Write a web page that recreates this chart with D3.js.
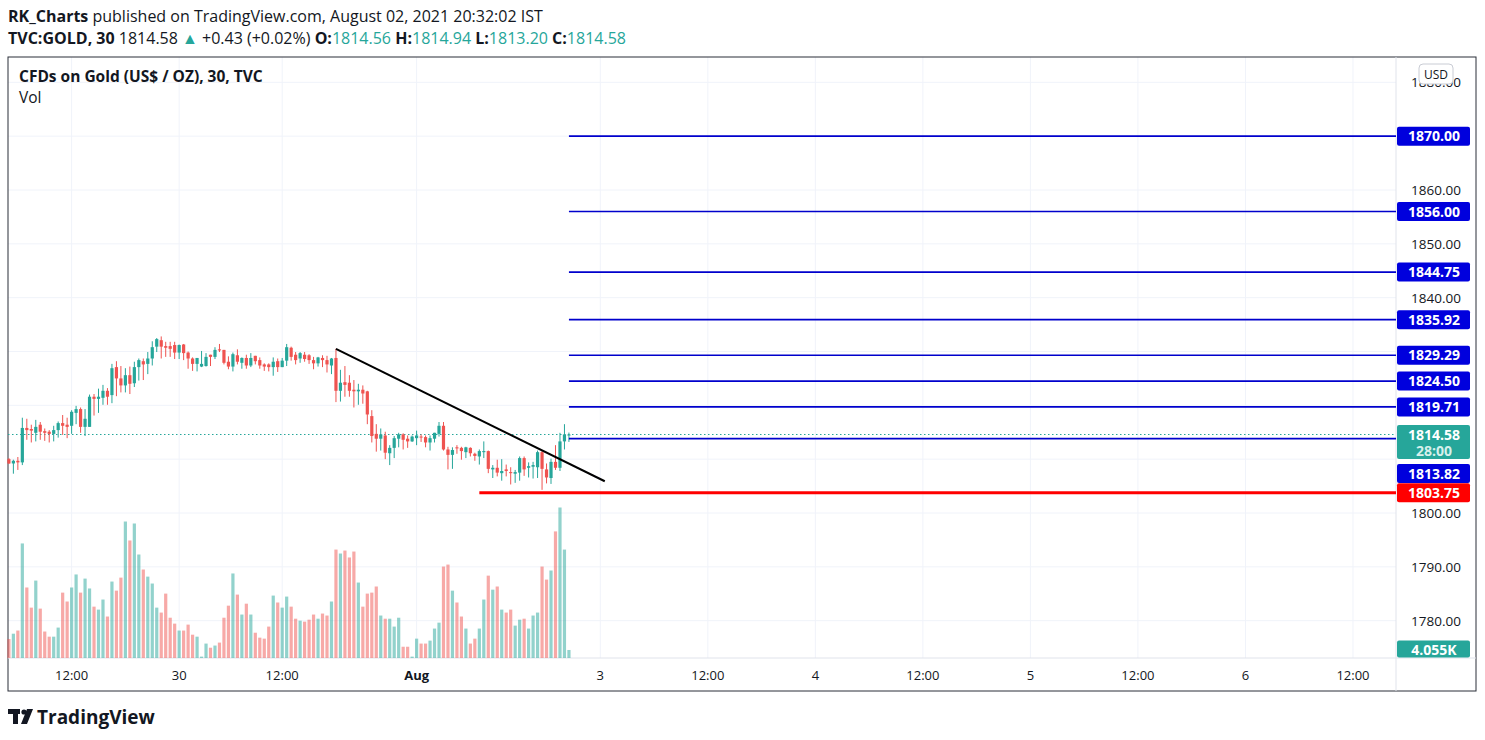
<html>
<head>
<script src="https://d3js.org/d3.v7.min.js"></script>
<style>
  body { margin: 0; background: #fff; }
  * { font-family: "Open Sans", "Noto Sans", Arial; }
</style>
</head>
<body>
<svg id="chart" width="1485" height="740"></svg>
<script>
// [open, high, low, close]
const candles = [
  [1810.0,1810.2,1809.1,1809.2],[1809.2,1809.9,1807.3,1809.7],[1809.7,1810.4,1808.0,1809.4],[1809.4,1817.7,1808.9,1815.8],
  [1815.8,1817.5,1813.6,1815.4],[1815.6,1816.4,1813.1,1815.3],[1814.9,1817.3,1813.3,1816.0],[1816.4,1816.9,1813.6,1815.1],
  [1815.2,1815.7,1813.4,1814.9],[1815.1,1815.4,1813.1,1814.7],[1814.7,1816.2,1813.3,1815.4],[1815.4,1817.0,1814.0,1816.7],
  [1816.7,1818.2,1814.5,1816.2],[1816.4,1817.7,1813.9,1816.0],[1816.2,1819.1,1814.7,1818.8],[1818.6,1819.9,1816.5,1819.3],
  [1819.3,1819.6,1814.9,1816.0],[1816.0,1819.3,1814.3,1817.5],[1816.0,1822.0,1816.0,1821.6],[1821.6,1822.1,1818.1,1821.2],
  [1821.2,1823.1,1818.6,1821.6],[1821.4,1823.8,1820.1,1822.7],[1822.7,1823.2,1820.1,1821.6],[1821.9,1827.7,1820.4,1826.9],
  [1827.1,1828.2,1821.7,1825.0],[1825.0,1827.3,1822.4,1823.7],[1823.7,1826.9,1822.4,1825.6],[1825.6,1827.2,1822.1,1824.0],
  [1824.1,1828.1,1823.4,1827.1],[1827.1,1828.7,1824.6,1828.4],[1828.2,1828.7,1824.7,1827.6],[1827.7,1829.9,1825.8,1828.7],
  [1828.7,1831.9,1827.4,1830.8],[1830.9,1832.5,1829.9,1832.3],[1832.1,1832.8,1828.7,1830.9],[1831.0,1831.8,1829.0,1830.7],
  [1831.0,1831.8,1829.0,1830.5],[1831.2,1831.8,1828.6,1829.8],[1829.8,1831.3,1828.6,1831.2],[1831.3,1831.4,1828.4,1829.7],
  [1829.8,1830.0,1826.8,1828.7],[1828.7,1828.9,1826.4,1827.7],[1827.7,1828.8,1826.3,1828.8],[1827.2,1830.1,1827.1,1827.7],
  [1827.3,1829.7,1827.2,1829.0],[1829.4,1829.4,1827.3,1829.0],[1829.0,1830.8,1828.6,1830.3],[1830.4,1831.4,1829.9,1830.2],
  [1830.3,1830.3,1827.6,1827.9],[1828.1,1829.1,1826.7,1827.2],[1827.2,1829.8,1826.3,1829.5],[1829.3,1830.4,1827.6,1828.1],
  [1827.9,1828.9,1826.8,1828.8],[1828.8,1829.4,1826.8,1827.4],[1827.4,1829.7,1827.1,1828.8],[1829.2,1829.2,1827.6,1828.2],
  [1828.4,1828.9,1826.8,1827.4],[1827.6,1827.8,1826.4,1827.2],[1827.6,1827.8,1826.3,1827.1],[1827.1,1828.9,1825.5,1828.1],
  [1828.2,1828.7,1826.2,1827.1],[1827.1,1828.8,1827.1,1828.3],[1828.3,1831.4,1827.3,1830.8],[1830.7,1830.9,1828.3,1829.0],
  [1829.4,1829.9,1827.6,1828.4],[1828.7,1829.9,1827.9,1829.7],[1829.4,1829.9,1828.1,1828.6],[1829.3,1829.5,1827.7,1828.4],
  [1828.4,1829.0,1826.7,1827.8],[1827.8,1829.0,1827.2,1828.9],[1828.8,1829.3,1827.1,1828.4],[1828.4,1829.2,1826.1,1827.6],
  [1827.4,1828.8,1825.8,1828.7],[1828.8,1830.5,1820.6,1822.7],[1822.7,1826.6,1820.7,1824.2],[1824.3,1827.3,1821.6,1823.8],
  [1824.2,1825.6,1821.6,1822.7],[1822.9,1824.7,1819.6,1822.6],[1822.6,1824.0,1820.1,1822.9],[1822.9,1823.7,1820.3,1822.2],
  [1822.6,1822.7,1816.5,1818.3],[1818.0,1819.1,1813.1,1814.3],[1814.7,1816.5,1811.4,1813.8],[1813.8,1815.7,1811.6,1814.6],
  [1814.4,1815.1,1810.0,1811.2],[1811.1,1812.6,1808.9,1812.1],[1812.1,1814.3,1810.2,1813.9],[1813.8,1814.9,1812.2,1814.6],
  [1814.6,1814.8,1811.8,1813.6],[1813.8,1814.4,1812.1,1813.3],[1813.3,1814.4,1813.2,1814.2],[1813.9,1815.3,1812.6,1814.4],
  [1814.2,1814.6,1813.2,1814.1],[1814.1,1814.4,1812.2,1813.1],[1813.1,1814.4,1811.6,1813.9],[1813.8,1814.9,1813.1,1814.9],
  [1814.7,1816.9,1814.2,1816.2],[1816.2,1816.9,1811.6,1811.8],[1811.8,1812.3,1808.1,1810.8],[1810.8,1812.2,1808.2,1811.7],
  [1812.2,1812.6,1811.0,1812.0],[1812.1,1812.3,1809.9,1811.5],[1811.3,1812.3,1810.2,1812.2],[1812.1,1812.2,1810.5,1811.1],
  [1811.0,1811.2,1809.7,1810.6],[1810.5,1811.8,1809.0,1811.5],[1811.3,1813.3,1810.2,1811.5],[1811.5,1811.6,1807.4,1808.2],
  [1808.1,1808.9,1806.5,1808.4],[1808.4,1809.9,1806.8,1807.5],[1807.4,1810.0,1806.0,1807.8],[1808.1,1809.0,1806.8,1807.8],
  [1807.6,1808.5,1805.3,1807.4],[1807.3,1808.0,1805.6,1807.6],[1807.5,1810.5,1806.0,1810.2],[1810.2,1810.5,1806.9,1808.1],
  [1808.4,1809.4,1806.6,1808.7],[1808.6,1809.5,1806.4,1808.9],[1808.5,1811.6,1806.5,1811.3],[1811.3,1811.7,1804.3,1808.2],
  [1808.1,1809.2,1805.5,1806.6],[1806.5,1810.1,1805.4,1809.5],[1809.5,1812.6,1808.0,1808.4],[1808.4,1814.9,1807.8,1813.3],
  [1813.3,1816.5,1811.8,1814.6],[1814.56,1814.94,1813.2,1814.58]
];
// volume in thousands
const volumes = [
  9.6,12.3,13.9,58.0,35.7,25.5,39.2,25.0,13.4,10.8,10.8,15.4,33.1,28.6,35.7,42.3,33.1,40.2,35.2,26.0,
  24.5,29.6,21.0,38.7,34.1,40.7,69.1,59.5,68.1,52.4,44.8,41.2,37.7,25.5,23.0,32.6,20.4,17.4,13.9,13.9,
  16.9,11.8,10.8,0.7,7.3,5.2,6.3,7.8,20.4,26.5,42.8,32.1,22.0,27.5,22.0,12.8,10.3,9.8,15.9,31.6,
  28.1,25.5,31.1,26.0,19.9,18.9,18.4,19.4,22.0,19.9,22.5,21.5,28.6,54.9,52.9,54.4,50.9,53.9,38.2,26.0,
  32.6,33.1,36.2,21.5,19.9,19.9,15.9,20.4,5.7,5.7,0.7,9.8,7.3,7.3,8.8,14.9,17.9,46.3,47.3,34.1,
  28.1,21.0,14.9,7.3,9.8,14.9,29.6,41.7,34.6,36.2,24.5,23.0,24.5,16.4,19.4,19.9,14.9,21.5,23.0,46.3,
  39.7,44.3,64.1,76.2,54.9,4.055
];
const priceTicks = [1780, 1790, 1800, 1810, 1820, 1830, 1840, 1850, 1860, 1870, 1880];
const timeTicks = [14, 38, 61, 91, 132, 156, 180, 204, 228, 252, 276, 300];
const timeLabels = ["12:00", "30", "12:00", "Aug", "3", "12:00", "4", "12:00", "5", "12:00", "6", "12:00"];
const targetLevels = [1870.00, 1856.00, 1844.75, 1835.92, 1829.29, 1824.50, 1819.71, 1813.82];
const supportLevel = 1803.75;
const supportStart = 105;
const trend = [{ i: 73, p: 1830.5 }, { i: 133, p: 1805.9 }];
const lastPrice = 1814.58;

const svg = d3.select("#chart");
const up = "#26a69a", down = "#ef5350";
const plotL = 8, plotR = 1396, plotT = 57, axisY = 658;

const x = d3.scaleLinear().domain([-0.2, 309.6]).range([plotL, plotR]);
const y = d3.scaleLinear().domain([1800, 1860]).range([513, 190]);
const vy = d3.scaleLinear().domain([0, 80]).range([axisY, axisY - 158]);

// header
const h = svg.append("g");
const t1 = h.append("text").attr("x", 8).attr("y", 22).attr("font-size", 16).attr("fill", "#131722");
t1.append("tspan").attr("font-weight", "bold").text("RK_Charts");
t1.append("tspan").text(" published on TradingView.com, August 02, 2021 20:32:02 IST");
const t2 = h.append("text").attr("x", 8).attr("y", 44).attr("font-size", 16).attr("fill", "#131722");
t2.append("tspan").attr("font-weight", "bold").text("TVC:GOLD, 30 ");
t2.append("tspan").text(" 1814.58 ");
t2.append("tspan").attr("fill", up).text("▲");
t2.append("tspan").text(" +0.43 (+0.02%) ");
[["O:", "1814.56"], ["H:", "1814.94"], ["L:", "1813.20"], ["C:", "1814.58"]].forEach(([k, v]) => {
  t2.append("tspan").attr("font-weight", "bold").text(k);
  t2.append("tspan").attr("fill", up).text(v + " ");
});

// grid
const grid = svg.append("g");
grid.selectAll("line.h").data(priceTicks).join("line")
  .attr("x1", plotL).attr("x2", plotR).attr("y1", d => y(d)).attr("y2", d => y(d))
  .attr("stroke", "#f0f3fa");
grid.selectAll("line.v").data(timeTicks).join("line")
  .attr("x1", d => x(d)).attr("x2", d => x(d)).attr("y1", plotT).attr("y2", axisY)
  .attr("stroke", "#f0f3fa");

// frame
svg.append("rect").attr("x", plotL).attr("y", plotT).attr("width", 1468).attr("height", 634)
  .attr("fill", "none").attr("stroke", "#2a2e39").attr("stroke-width", 1);
svg.append("line").attr("x1", plotR).attr("x2", plotR).attr("y1", plotT).attr("y2", 691).attr("stroke", "#e0e3eb");
svg.append("line").attr("x1", plotL).attr("x2", 1476).attr("y1", axisY).attr("y2", axisY).attr("stroke", "#e0e3eb");

// time axis labels
svg.append("g").selectAll("text").data(timeTicks).join("text")
  .attr("x", d => x(d)).attr("y", 680).attr("text-anchor", "middle").attr("font-size", 13)
  .attr("fill", "#131722").attr("font-weight", (d, i) => timeLabels[i] === "Aug" ? "bold" : null)
  .text((d, i) => timeLabels[i]);

// price axis labels (hidden where a price tag covers them)
const covered = p =>
  targetLevels.some(q => q !== 1813.82 && Math.abs(y(p) - y(q)) < 14) ||
  Math.abs(y(p) - y(supportLevel)) < 14 ||
  (y(p) > y(lastPrice) - 14 && y(p) < y(lastPrice) + 30);
svg.append("g").selectAll("text")
  .data(priceTicks.filter(p => !covered(p)))
  .join("text")
  .attr("x", 1436).attr("y", d => y(d) + 5).attr("text-anchor", "middle").attr("font-size", 13.5)
  .attr("fill", "#131722").text(d => d.toFixed(2));

// volume
svg.append("g").selectAll("rect").data(volumes).join("rect")
  .attr("x", (d, i) => x(i) - 1.6).attr("width", 3.2)
  .attr("y", d => vy(d)).attr("height", d => axisY - vy(d))
  .attr("fill", (d, i) => candles[i][3] >= candles[i][0] ? "rgba(38,166,154,0.5)" : "rgba(239,83,80,0.5)");

// last price dotted line
svg.append("line").attr("x1", plotL).attr("x2", plotR).attr("y1", y(lastPrice)).attr("y2", y(lastPrice))
  .attr("stroke", up).attr("stroke-dasharray", "1.5,2.5").attr("stroke-width", 1);

// candles
const cg = svg.append("g");
cg.selectAll("line").data(candles).join("line")
  .attr("x1", (d, i) => x(i)).attr("x2", (d, i) => x(i))
  .attr("y1", d => y(d[1])).attr("y2", d => y(d[2]))
  .attr("stroke", d => d[3] >= d[0] ? up : down);
cg.selectAll("rect").data(candles).join("rect")
  .attr("x", (d, i) => x(i) - 1.6).attr("width", 3.2)
  .attr("y", d => y(Math.max(d[0], d[3])))
  .attr("height", d => Math.max(1, Math.abs(y(d[0]) - y(d[3]))))
  .attr("fill", d => d[3] >= d[0] ? up : down);

// drawings
const lastIdx = candles.length - 1;
svg.append("g").selectAll("line").data(targetLevels).join("line")
  .attr("x1", x(lastIdx)).attr("x2", plotR).attr("y1", d => y(d)).attr("y2", d => y(d))
  .attr("stroke", "#0000cc").attr("stroke-width", 1.6);
svg.append("line").attr("x1", x(supportStart)).attr("x2", plotR)
  .attr("y1", y(supportLevel)).attr("y2", y(supportLevel)).attr("stroke", "#ff0000").attr("stroke-width", 3);
svg.append("line").attr("x1", x(trend[0].i)).attr("x2", x(trend[1].i))
  .attr("y1", y(trend[0].p)).attr("y2", y(trend[1].p)).attr("stroke", "#000").attr("stroke-width", 2);

// price labels on axis
function tag(yc, hgt, fill, lines) {
  svg.append("rect").attr("x", 1397).attr("y", yc - 9.5).attr("width", 73).attr("height", hgt)
    .attr("rx", 2).attr("fill", fill);
  lines.forEach((s, k) => svg.append("text").attr("x", 1434).attr("y", yc + 5 + k * 16)
    .attr("text-anchor", "middle").attr("font-size", 14).attr("font-weight", "bold")
    .attr("fill", k ? "#d6f0ec" : "#fff").text(s));
}
targetLevels.forEach(p => {
  const yc = p === 1813.82 ? y(p) + 35 : y(p);
  tag(yc, 19, "#0000dd", [p.toFixed(2)]);
});
tag(y(supportLevel), 19, "#ff0000", [supportLevel.toFixed(2)]);
tag(y(lastPrice), 34, up, [lastPrice.toFixed(2), "28:00"]);
tag(650, 17, up, ["4.055K"]);

// USD badge
svg.append("rect").attr("x", 1419).attr("y", 64).attr("width", 34).attr("height", 20).attr("rx", 4)
  .attr("fill", "#fff").attr("stroke", "#c9ccd4");
svg.append("text").attr("x", 1436).attr("y", 79).attr("text-anchor", "middle").attr("font-size", 12)
  .attr("fill", "#131722").text("USD");

// legend
svg.append("text").attr("x", 19).attr("y", 82).attr("font-size", 15.5).attr("font-weight", "bold")
  .attr("fill", "#131722").text("CFDs on Gold (US$ / OZ), 30, TVC");
svg.append("text").attr("x", 19).attr("y", 103).attr("font-size", 15.5).attr("fill", "#131722").text("Vol");

// logo
const lg = svg.append("g").attr("fill", "#131722");
lg.append("rect").attr("x", 8).attr("y", 709).attr("width", 12).attr("height", 5);
lg.append("rect").attr("x", 13).attr("y", 709).attr("width", 5).attr("height", 15);
lg.append("circle").attr("cx", 24).attr("cy", 712).attr("r", 2.6);
lg.append("path").attr("d", "M27,709 L33,709 L27,724 L21,724 Z");
lg.append("text").attr("x", 37).attr("y", 724).attr("font-size", 19).attr("font-weight", "bold")
  .text("TradingView");
</script>
</body>
</html>
